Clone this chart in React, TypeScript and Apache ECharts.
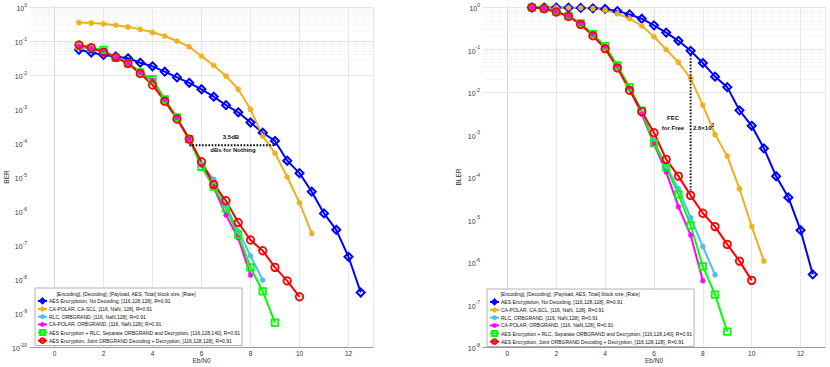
import React, { useEffect, useRef } from 'react';
import * as echarts from 'echarts';

// ---------------- DATA ----------------
const snrBlue = [1, 1.5, 2, 2.5, 3, 3.5, 4, 4.5, 5, 5.5, 6, 6.5, 7, 7.5, 8, 8.5, 9, 9.5, 10, 10.5, 11, 11.5, 12, 12.5];
const snrOrange = [1, 1.5, 2, 2.5, 3, 3.5, 4, 4.5, 5, 5.5, 6, 6.5, 7, 7.5, 8, 8.5, 9, 9.5, 10, 10.5];
const snrRed = [1, 1.5, 2, 2.5, 3, 3.5, 4, 4.5, 5, 5.5, 6, 6.5, 7, 7.5, 8, 8.5, 9, 9.5, 10];
const snrGreen = [1, 1.5, 2, 2.5, 3, 3.5, 4, 4.5, 5, 5.5, 6, 6.5, 7, 7.5, 8, 8.5, 9];
const snrLightBlue = [1, 1.5, 2, 2.5, 3, 3.5, 4, 4.5, 5, 5.5, 6, 6.5, 7, 7.5, 8, 8.5];
const snrMagenta = [1, 1.5, 2, 2.5, 3, 3.5, 4, 4.5, 5, 5.5, 6, 6.5, 7, 7.5, 8];

// BER (left)
const berBlue = [0.055, 0.046, 0.039, 0.035, 0.031, 0.023, 0.018, 0.0125, 0.0085, 0.0059, 0.0038, 0.0023, 0.0013, 8e-4, 4e-4, 2e-4, 1.15e-4, 3e-5, 1.3e-5, 3.7e-6, 8.5e-7, 2.8e-7, 4.5e-8, 4e-9];
const berOrange = [0.35, 0.34, 0.32, 0.29, 0.26, 0.22, 0.18, 0.14, 0.1, 0.068, 0.036, 0.019, 0.0093, 0.0038, 9.8e-4, 1.6e-4, 5e-5, 1e-5, 1.75e-6, 2.2e-7];
const berRed = [0.076, 0.063, 0.047, 0.033, 0.022, 0.011, 0.0051, 0.0017, 5.1e-4, 1.3e-4, 2.8e-5, 6e-6, 2e-6, 4.6e-7, 1.4e-7, 6.8e-8, 2.2e-8, 8.8e-9, 3e-9];
const berGreen = [0.072, 0.062, 0.055, 0.032, 0.022, 0.012, 0.0075, 0.0019, 5.7e-4, 1.3e-4, 2e-5, 5.2e-6, 1.2e-6, 2e-7, 2.2e-8, 4.3e-9, 5.2e-10];
const berLightBlue = [0.07, 0.06, 0.05, 0.034, 0.022, 0.012, 0.007, 0.0019, 5.5e-4, 1.3e-4, 2.4e-5, 8.5e-6, 1.4e-6, 2.6e-7, 4.8e-8, 9.3e-9];
const berMagenta = [0.07, 0.06, 0.05, 0.033, 0.022, 0.012, 0.007, 0.0019, 5.5e-4, 1.3e-4, 2.2e-5, 5e-6, 7.6e-7, 1.6e-7, 1.3e-8];

// BLER (right)
const blerBlue = [0.97, 0.97, 0.97, 0.96, 0.95, 0.93, 0.9, 0.8, 0.67, 0.53, 0.37, 0.25, 0.16, 0.093, 0.048, 0.023, 0.013, 0.0037, 0.0016, 4.7e-4, 1.04e-4, 3.3e-5, 5.6e-6, 5.1e-7];
const blerOrange = [0.97, 0.97, 0.97, 0.96, 0.95, 0.92, 0.84, 0.7, 0.53, 0.36, 0.2, 0.1, 0.05, 0.021, 0.0049, 0.001, 3.1e-4, 5.3e-5, 6.9e-6, 1.05e-6];
const blerRed = [0.97, 0.91, 0.76, 0.6, 0.39, 0.21, 0.105, 0.037, 0.011, 0.0035, 0.0011, 2.6e-4, 1.05e-4, 3.7e-5, 1.4e-5, 6.8e-6, 2.6e-6, 1.05e-6, 3.7e-7];
const blerGreen = [0.97, 0.92, 0.78, 0.62, 0.41, 0.23, 0.12, 0.042, 0.013, 0.0036, 6.3e-4, 1.7e-4, 3.9e-5, 7.3e-6, 7.9e-7, 1.7e-7, 2.3e-8];
const blerLightBlue = [0.97, 0.92, 0.78, 0.61, 0.4, 0.22, 0.11, 0.04, 0.012, 0.0033, 7e-4, 1.8e-4, 5.3e-5, 1.1e-5, 2.3e-6, 5e-7];
const blerMagenta = [0.97, 0.92, 0.78, 0.61, 0.4, 0.22, 0.11, 0.04, 0.012, 0.003, 6e-4, 1.3e-4, 2e-5, 4.3e-6, 3.6e-7];

const seriesNames = [
  'AES Encryptoion, No Decoding, [116,128,128], R=0.91',
  'CA-POLAR, CA-SCL, [116, NaN, 128], R=0.91',
  'RLC, ORBGRAND, [116, NaN,128], R=0.91',
  'CA-POLAR, ORBGRAND, [116, NaN,128], R=0.91',
  'AES Encryption + RLC, Separate ORBGRAND and Decryption, [116,128,140], R=0.91',
  'AES Encryption, Joint ORBGRAND Decoding + Decryption, [116,128,128], R=0.91',
];
const legendTitle = '[Encoding], [Decoding], [Payload, AES, Total] block size, [Rate]';

// annotation values
const nothingLevel = 1e-4;
const nothingFrom = 5.5;
const nothingTo = 9.0;
const fecSnr = 7.5;
const fecTop = 0.093;
const fecBottom = 3.7e-5;

// ---------------- STYLE ----------------
const FONT = '"Liberation Sans", Arial, Helvetica, sans-serif';
const STAR = 'path://M5,0L5,10M0,5L10,5M1.5,1.5L8.5,8.5M1.5,8.5L8.5,1.5';
const NONE = 'rgba(255,255,255,0)';

const styles = [
  { color: '#0000FF', symbol: 'diamond', size: 8, fill: NONE, bw: 2 },
  { color: '#EDB120', symbol: STAR, size: 6, fill: NONE, bw: 1.4 },
  { color: '#4DBEEE', symbol: 'circle', size: 5.5, fill: '#4DBEEE', bw: 0 },
  { color: '#FF00FF', symbol: STAR, size: 5.5, fill: NONE, bw: 1.4 },
  { color: '#00FF00', symbol: 'rect', size: 6.5, fill: NONE, bw: 1.8 },
  { color: '#FF0000', symbol: 'circle', size: 7.5, fill: NONE, bw: 1.8 },
];

function mk(idx: number, xs: number[], ys: number[], gi: number) {
  const s = styles[idx];
  return {
    type: 'line',
    name: seriesNames[idx],
    xAxisIndex: gi,
    yAxisIndex: gi,
    data: xs.map((x, i) => [x, ys[i]]),
    symbol: s.symbol,
    symbolSize: s.size,
    showSymbol: true,
    lineStyle: { color: s.color, width: 2 },
    itemStyle: { color: s.fill, borderColor: s.color, borderWidth: s.bw },
    z: 3,
  };
}

function gridHelper(gi: number, decades: number) {
  const data: any[] = [];
  [0, 2, 4, 6, 8, 10, 12, 13].forEach((x) =>
    data.push({ xAxis: x, lineStyle: { color: '#e2e2e2', width: 0.8, type: 'solid' } })
  );
  for (let k = 0; k <= decades; k++) {
    data.push({ yAxis: Math.pow(10, -k), lineStyle: { color: '#e0e0e0', width: 0.8, type: 'solid' } });
  }
  for (let k = 1; k <= decades; k++) {
    for (let m = 2; m <= 9; m++) {
      data.push({ yAxis: m * Math.pow(10, -k), lineStyle: { color: '#e6e6e6', width: 0.6, type: [1, 1] } });
    }
  }
  return {
    type: 'line',
    xAxisIndex: gi,
    yAxisIndex: gi,
    data: [],
    silent: true,
    z: 1,
    markLine: { silent: true, symbol: ['none', 'none'], z: 1, label: { show: false }, data },
  };
}

const supRich = {
  b: { fontSize: 7, color: '#333', fontFamily: FONT, verticalAlign: 'bottom', lineHeight: 10 },
  s: { fontSize: 5, color: '#333', fontFamily: FONT, verticalAlign: 'top', lineHeight: 10, padding: [0, 0, 3, 0] },
};

function xAxisCfg(gi: number) {
  return {
    type: 'value',
    gridIndex: gi,
    min: -1,
    max: 13,
    interval: 1,
    name: 'Eb/N0',
    nameLocation: 'middle',
    nameGap: 9.5,
    nameMoveOverlap: false,
    nameTextStyle: { fontSize: 6.5, color: '#333', fontFamily: FONT },
    axisLine: { show: true, onZero: false, lineStyle: { color: '#9a9a9a', width: 1 } },
    axisTick: { show: false },
    splitLine: { show: false },
    axisLabel: {
      fontSize: 6.5,
      color: '#333',
      fontFamily: FONT,
      margin: 3,
      formatter: (v: number) => (v >= 0 && v <= 12 && v % 2 === 0 ? String(v) : ''),
    },
  };
}

function yAxisCfg(gi: number, min: number, name: string, nameGap: number) {
  return {
    type: 'log',
    logBase: 10,
    gridIndex: gi,
    min,
    max: 1,
    interval: 1,
    splitNumber: Math.round(-Math.log10(min)),
    name,
    nameLocation: 'middle',
    nameGap,
    nameMoveOverlap: false,
    nameTextStyle: { fontSize: 6.5, color: '#333', fontFamily: FONT },
    axisLine: { show: true, lineStyle: { color: '#9a9a9a', width: 1 } },
    axisTick: { show: false },
    minorTick: { show: false },
    splitLine: { show: false },
    axisLabel: {
      margin: 3,
      showMinLabel: true,
      showMaxLabel: true,
      formatter: (v: number) => `{b|10}{s|${Math.round(Math.log10(v))}}`,
      rich: supRich,
    },
  };
}

function legendCfg(left: number, top: number) {
  return {
    left,
    top,
    orient: 'vertical',
    padding: [9.5, 2, 1.5, 2],
    itemGap: 1.3,
    itemWidth: 9,
    itemHeight: 6,
    backgroundColor: '#ffffff',
    borderColor: '#a0a0a0',
    borderWidth: 0.8,
    borderRadius: 0,
    selectedMode: false,
    data: seriesNames,
    textStyle: { fontSize: 5, lineHeight: 6, color: '#111', fontFamily: FONT, padding: [0, 0, 0, -3] },
  };
}

const txt = (x: number, y: number, text: string, extra: any = {}) => ({
  type: 'text',
  x,
  y,
  z: 100,
  style: {
    text,
    fontSize: 6,
    fontFamily: FONT,
    fill: '#111',
    align: 'center',
    verticalAlign: 'middle',
    ...extra,
  },
});

export default function App() {
  const ref = useRef<HTMLDivElement>(null);
  useEffect(() => {
    if (!ref.current) return;
    const chart = echarts.init(ref.current, undefined, { renderer: 'svg' });
    const option: any = {
      animation: false,
      backgroundColor: '#ffffff',
      grid: [
        { left: 30, top: 7, width: 343, height: 340, outerBoundsMode: 'none' },
        { left: 483, top: 7, width: 342, height: 340, outerBoundsMode: 'none' },
      ],
      xAxis: [xAxisCfg(0), xAxisCfg(1)],
      yAxis: [yAxisCfg(0, 1e-10, 'BER', 20), yAxisCfg(1, 1e-8, 'BLER', 21)],
      legend: [legendCfg(35, 288), legendCfg(487, 289)],
      series: [
        gridHelper(0, 10),
        gridHelper(1, 8),
        {
          type: 'line',
          xAxisIndex: 0,
          yAxisIndex: 0,
          data: [],
          silent: true,
          z: 2,
          markLine: {
            silent: true,
            symbol: ['none', 'none'],
            z: 2,
            label: { show: false },
            data: [{ yAxis: nothingLevel, lineStyle: { color: '#000', width: 2, type: 'solid' } }],
          },
        },
        mk(0, snrBlue, berBlue, 0),
        mk(1, snrOrange, berOrange, 0),
        mk(2, snrLightBlue, berLightBlue, 0),
        mk(3, snrMagenta, berMagenta, 0),
        mk(4, snrGreen, berGreen, 0),
        mk(5, snrRed, berRed, 0),
        {
          type: 'line',
          xAxisIndex: 0,
          yAxisIndex: 0,
          silent: true,
          symbol: 'none',
          z: 4,
          data: [
            [nothingFrom, nothingLevel * 0.86],
            [nothingTo, nothingLevel * 0.86],
          ],
          lineStyle: { color: '#000', width: 1.8, type: [1.6, 1.6] },
        },
        mk(0, snrBlue, blerBlue, 1),
        mk(1, snrOrange, blerOrange, 1),
        mk(2, snrLightBlue, blerLightBlue, 1),
        mk(3, snrMagenta, blerMagenta, 1),
        mk(4, snrGreen, blerGreen, 1),
        mk(5, snrRed, blerRed, 1),
        {
          type: 'line',
          xAxisIndex: 1,
          yAxisIndex: 1,
          silent: true,
          symbol: 'none',
          z: 4,
          data: [
            [fecSnr, fecTop * 0.8],
            [fecSnr, fecBottom * 1.3],
          ],
          lineStyle: { color: '#000', width: 1.8, type: [1.6, 1.6] },
        },
      ],
      graphic: [
        txt(126, 293.5, legendTitle, { fontSize: 5 }),
        txt(570, 294, legendTitle, { fontSize: 5 }),
        txt(231, 136.5, '3.5dB', { fontWeight: 'bold' }),
        txt(233, 149.5, 'dBs for Nothing', { fontWeight: 'bold' }),
        txt(673, 118, 'FEC', { fontWeight: 'bold' }),
        txt(673, 128, 'for Free', { fontWeight: 'bold' }),
        {
          type: 'text',
          x: 693,
          y: 123,
          z: 100,
          style: {
            text: '{b|2.6×10}{s|3}',
            align: 'left',
            verticalAlign: 'top',
            rich: {
              b: { fontSize: 6, fontWeight: 'bold', fontFamily: FONT, fill: '#111', verticalAlign: 'bottom', lineHeight: 8 },
              s: { fontSize: 4.5, fontWeight: 'bold', fontFamily: FONT, fill: '#111', verticalAlign: 'top', lineHeight: 8 },
            },
          },
        },
      ],
    };
    chart.setOption(option);
    return () => chart.dispose();
  }, []);
  return (
    <div
      ref={ref}
      style={{ position: 'fixed', left: 0, top: 0, width: 830, height: 367, background: '#fff' }}
    />
  );
}
